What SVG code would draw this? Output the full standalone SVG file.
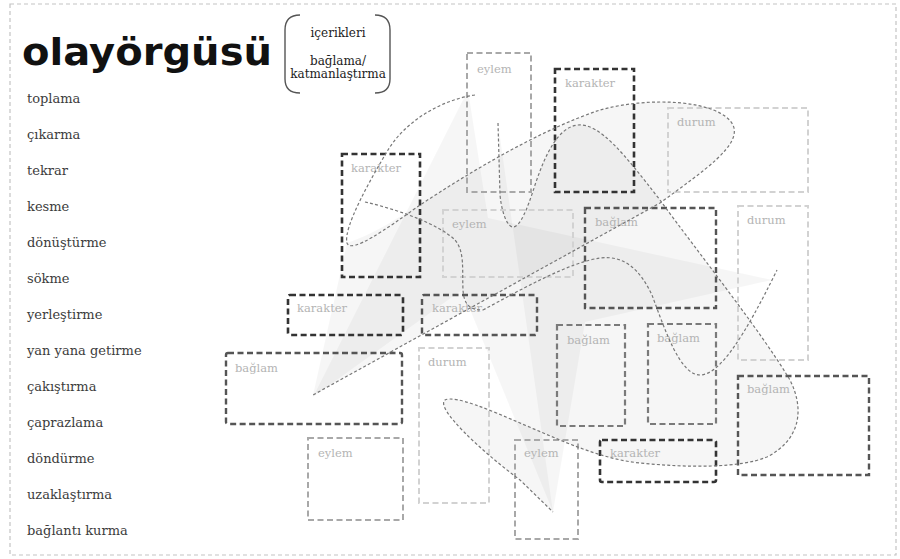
<svg xmlns="http://www.w3.org/2000/svg" width="900" height="559" viewBox="0 0 900 559">
<style>
.frame{fill:none;stroke:#c4c4c4;stroke-width:1.2;stroke-dasharray:4 3}
.box{fill:none;stroke-dasharray:6 3.5}
.b1{stroke:#333;stroke-width:2.6}
.b2{stroke:#555;stroke-width:2.4}
.b3{stroke:#7a7a7a;stroke-width:2.2}
.b4{stroke:#a8a8a8;stroke-width:2}
.b5{stroke:#d2d2d2;stroke-width:2}
.lbl{font-family:"DejaVu Serif","Liberation Serif",serif;font-size:11.5px;fill:#b4b4b4}
.list{font-family:"DejaVu Serif","Liberation Serif",serif;font-size:13px;fill:#3c3c3c}
.hint{font-family:"DejaVu Serif","Liberation Serif",serif;font-size:12px;fill:#222;text-anchor:middle}
.curve{fill:none;stroke:#777;stroke-width:1.2;stroke-dasharray:3 2.2}
.shade{fill:#000;fill-opacity:0.035;stroke:none}
</style>

<rect class="frame" x="10" y="4" width="886" height="551"/>

<g id="title">
<text x="22" y="65" font-family="DejaVu Sans, sans-serif" font-weight="bold" font-size="38" textLength="250" lengthAdjust="spacingAndGlyphs" fill="#111">olayörgüsü</text>
<path d="M300,15 Q285,15 285,30 L285,79 Q285,93 300,93 M375,15 Q390,15 390,30 L390,79 Q390,93 375,93" fill="none" stroke="#555" stroke-width="1.4"/>
<text class="hint" x="338" y="37">içerikleri</text>
<text class="hint" x="338" y="65">bağlama/</text>
<text class="hint" x="338" y="78">katmanlaştırma</text>
</g>

<g id="operations">
<text class="list" x="27" y="103">toplama</text>
<text class="list" x="27" y="139">çıkarma</text>
<text class="list" x="27" y="175">tekrar</text>
<text class="list" x="27" y="211">kesme</text>
<text class="list" x="27" y="247">dönüştürme</text>
<text class="list" x="27" y="283">sökme</text>
<text class="list" x="27" y="319">yerleştirme</text>
<text class="list" x="27" y="355">yan yana getirme</text>
<text class="list" x="27" y="391">çakıştırma</text>
<text class="list" x="27" y="427">çaprazlama</text>
<text class="list" x="27" y="463">döndürme</text>
<text class="list" x="27" y="499">uzaklaştırma</text>
<text class="list" x="27" y="535">bağlantı kurma</text>
</g>

<g id="shading">
<path class="shade" d="M313,397 L468,90 L488,218 L772,280 L585,322 L553,512 L462,290 Z"/>
<path class="shade" d="M347,243 C380,232 400,215 420,205 C470,172 540,130 600,110 C650,96 720,100 733,125 C742,145 705,170 660,203 L313,395 Z"/>
<path class="shade" d="M498,123 L500,195 C502,215 508,227 513,227 C520,227 527,210 535,185 C545,155 558,127 578,125 C600,123 625,155 660,200 C700,255 760,330 790,380 C805,410 800,440 767,457 C740,468 690,468 640,463 C600,459 560,440 520,423 C490,410 455,395 445,400 C435,408 480,450 520,480 L553,512 Z"/>
</g>

<g id="n-eylem-1"><rect class="box b4" x="467" y="53" width="64" height="139"/><text class="lbl" x="477" y="73">eylem</text></g>
<g id="n-karakter-1"><rect class="box b1" x="555" y="69" width="79" height="123"/><text class="lbl" x="565" y="87">karakter</text></g>
<g id="n-durum-1"><rect class="box b5" x="668" y="108" width="140" height="84"/><text class="lbl" x="677" y="126">durum</text></g>
<g id="n-karakter-2"><rect class="box b1" x="342" y="154" width="78" height="123"/><text class="lbl" x="351" y="172">karakter</text></g>
<g id="n-eylem-2"><rect class="box b5" x="443" y="210" width="130" height="67"/><text class="lbl" x="452" y="228">eylem</text></g>
<g id="n-baglam-1"><rect class="box b2" x="585" y="208" width="131" height="100"/><text class="lbl" x="595" y="226">bağlam</text></g>
<g id="n-durum-2"><rect class="box b5" x="738" y="206" width="70" height="154"/><text class="lbl" x="747" y="224">durum</text></g>
<g id="n-karakter-3"><rect class="box b1" x="288" y="295" width="115" height="40" rx="2"/><text class="lbl" x="297" y="312">karakter</text></g>
<g id="n-karakter-4"><rect class="box b2" x="422" y="295" width="115" height="40" rx="2"/><text class="lbl" x="432" y="312">karakter</text></g>
<g id="n-baglam-2"><rect class="box b2" x="226" y="353" width="176" height="71" rx="2"/><text class="lbl" x="235" y="372">bağlam</text></g>
<g id="n-durum-3"><rect class="box b5" x="419" y="348" width="70" height="155"/><text class="lbl" x="428" y="366">durum</text></g>
<g id="n-eylem-3"><rect class="box b4" x="308" y="438" width="95" height="82"/><text class="lbl" x="318" y="457">eylem</text></g>
<g id="n-eylem-4"><rect class="box b4" x="515" y="440" width="63" height="99"/><text class="lbl" x="524" y="457">eylem</text></g>
<g id="n-karakter-5"><rect class="box b1" x="600" y="440" width="116" height="42" rx="2"/><text class="lbl" x="610" y="457">karakter</text></g>
<g id="n-baglam-3"><rect class="box b3" x="557" y="325" width="68" height="101"/><text class="lbl" x="567" y="344">bağlam</text></g>
<g id="n-baglam-4"><rect class="box b3" x="648" y="324" width="68" height="100"/><text class="lbl" x="657" y="342">bağlam</text></g>
<g id="n-baglam-5"><rect class="box b2" x="738" y="376" width="131" height="99"/><text class="lbl" x="747" y="393">bağlam</text></g>

<g id="connectors">
<path class="curve" d="M475,95 C440,100 405,122 388,150 C370,180 343,228 347,243 C351,254 385,230 420,205 C470,172 540,130 600,110 C650,96 720,100 733,125 C742,145 705,170 660,203 L313,395"/>
<path class="curve" d="M365,202 C400,210 440,225 455,240 C465,252 462,270 463,290 C464,305 470,310 483,310"/>
<path class="curve" d="M498,123 L500,195 C502,215 508,227 513,227 C520,227 527,210 535,185 C545,155 558,127 578,125 C600,123 625,155 660,200 C700,255 760,330 790,380 C805,410 800,440 767,457 C740,468 690,468 640,463 C600,459 560,440 520,423 C490,410 455,395 445,400 C435,408 480,450 520,480 L553,512"/>
<path class="curve" d="M483,310 C520,290 570,262 600,258 C625,255 640,270 652,295 C665,330 680,375 700,375 C720,375 745,335 777,270"/>
</g>
</svg>
